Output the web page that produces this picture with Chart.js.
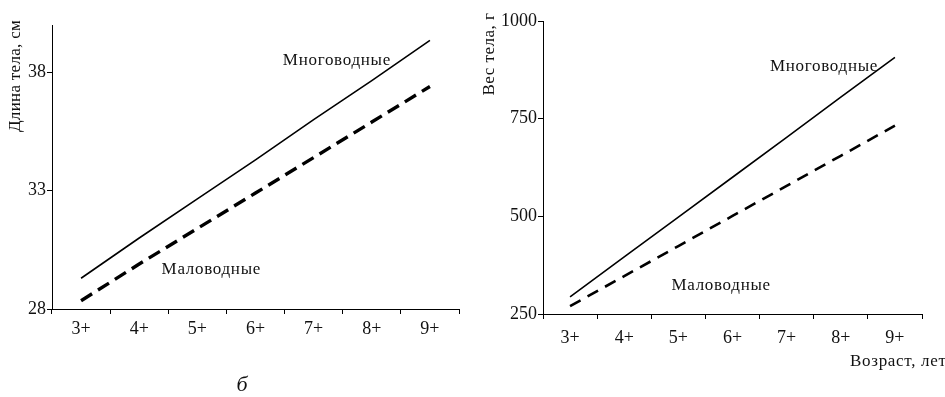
<!DOCTYPE html>
<html>
<head>
<meta charset="utf-8">
<script src="https://cdn.jsdelivr.net/npm/chart.js@4/dist/chart.umd.min.js"></script>
<style>
  html, body { margin: 0; padding: 0; background: #fff; }
  #wrap { position: relative; width: 945px; height: 397px; overflow: hidden; }
  #left { position: absolute; left: 0; top: 0; }
  #right { position: absolute; left: 470px; top: 0; }
</style>
</head>
<body>
<div id="wrap">
  <canvas id="left" width="470" height="397"></canvas>
  <canvas id="right" width="475" height="397"></canvas>
</div>
<script>
const ages = ["3+", "4+", "5+", "6+", "7+", "8+", "9+"];

// длина тела, см
const lengthHigh = [29.3, 31.0, 32.65, 34.3, 36.0, 37.65, 39.35];
const lengthLow = [28.35, 29.9, 31.4, 32.9, 34.4, 35.9, 37.4];
const lengthTicks = [28, 33, 38];

// вес тела, г
const weightHigh = [294, 396, 498, 600, 702, 805, 907];
const weightLow = [270, 347, 424, 501, 578, 655, 732];
const weightTicks = [250, 500, 750, 1000];

const FONT = "'Liberation Serif', 'Times New Roman', serif";
const INK = "#111";

// подписи на поле графика
const textPlugin = {
  id: "texts",
  afterDraw(chart, args, opts) {
    const ctx = chart.ctx;
    const x = chart.scales.x, y = chart.scales.y;
    ctx.save();
    ctx.fillStyle = INK;
    ctx.textBaseline = "middle";
    (opts.items || []).forEach((t) => {
      ctx.font = (t.italic ? "italic " : "") + t.size + "px " + FONT;
      ctx.letterSpacing = (t.spacing || 0) + "px";
      let px = t.px, py = t.py;
      if (t.cat !== undefined) {
        px = x.getPixelForValue(t.cat);
        py = y.getPixelForValue(t.val);
      }
      ctx.save();
      ctx.translate(px, py);
      if (t.rotate) ctx.rotate(-Math.PI / 2);
      ctx.textAlign = t.align || "center";
      ctx.fillText(t.text, 0, 0);
      ctx.restore();
    });
    ctx.restore();
  },
};

function makeChart(id, high, low, tickVals, min, max, o) {
  return new Chart(document.getElementById(id), {
    type: "line",
    data: {
      labels: ages,
      datasets: [
        {
          label: "Многоводные",
          data: high,
          borderColor: "#000",
          borderWidth: 1.6,
          pointRadius: 0,
          tension: 0,
          fill: false,
        },
        {
          label: "Маловодные",
          data: low,
          borderColor: "#000",
          borderWidth: o.dashWidth,
          borderDash: o.dash,
          pointRadius: 0,
          tension: 0,
          fill: false,
        },
      ],
    },
    options: {
      responsive: false,
      animation: false,
      events: [],
      layout: { padding: o.padding },
      plugins: {
        legend: { display: false },
        tooltip: { enabled: false },
        texts: { items: o.texts },
      },
      scales: {
        x: {
          type: "category",
          offset: true,
          afterFit(s) { s.height = o.xHeight; },
          border: { color: "#000", width: 1 },
          grid: { drawOnChartArea: false, drawTicks: true, tickLength: 5, color: "#000", offset: true },
          ticks: { color: INK, font: { family: FONT, size: 18 }, padding: o.xPad, maxRotation: 0 },
        },
        y: {
          min: min,
          max: max,
          afterBuildTicks(s) { s.ticks = tickVals.map((v) => ({ value: v })); },
          afterFit(s) { s.width = o.yWidth; },
          border: { color: "#000", width: 1 },
          grid: { drawOnChartArea: false, drawTicks: true, tickLength: 5, color: "#000" },
          ticks: {
            color: INK,
            font: { family: FONT, size: 18 },
            padding: 1,
            callback: (v) => String(v),
          },
        },
      },
    },
    plugins: [textPlugin],
  });
}

makeChart("left", lengthHigh, lengthLow, lengthTicks, 28, 40, {
  padding: { left: 0, top: 25, right: 11, bottom: 0 },
  yWidth: 52,
  xHeight: 88,
  xPad: 4,
  dash: [13, 7],
  dashWidth: 3.4,
  texts: [
    { text: "Многоводные", cat: 4.4, val: 38.5, size: 17, spacing: 0.7 },
    { text: "Маловодные", cat: 2.24, val: 29.65, size: 17, spacing: 0.7 },
    { text: "Длина тела, см", px: 16, py: 76, rotate: true, size: 17, spacing: 0.3 },
    { text: "б", px: 242, py: 385, size: 22, italic: true },
  ],
});

makeChart("right", weightHigh, weightLow, weightTicks, 250, 1000, {
  padding: { left: 0, top: 21, right: 23, bottom: 0 },
  yWidth: 73,
  xHeight: 83,
  xPad: 8,
  dash: [12, 8],
  dashWidth: 2.6,
  texts: [
    { text: "Многоводные", cat: 4.69, val: 884, size: 17, spacing: 0.7 },
    { text: "Маловодные", cat: 2.79, val: 324, size: 17, spacing: 0.7 },
    { text: "Вес тела, г", px: 20, py: 54, rotate: true, size: 17, spacing: 0.5 },
    { text: "Возраст, лет", px: 380, py: 362, align: "left", size: 17, spacing: 0.7 },
  ],
});
</script>
</body>
</html>
